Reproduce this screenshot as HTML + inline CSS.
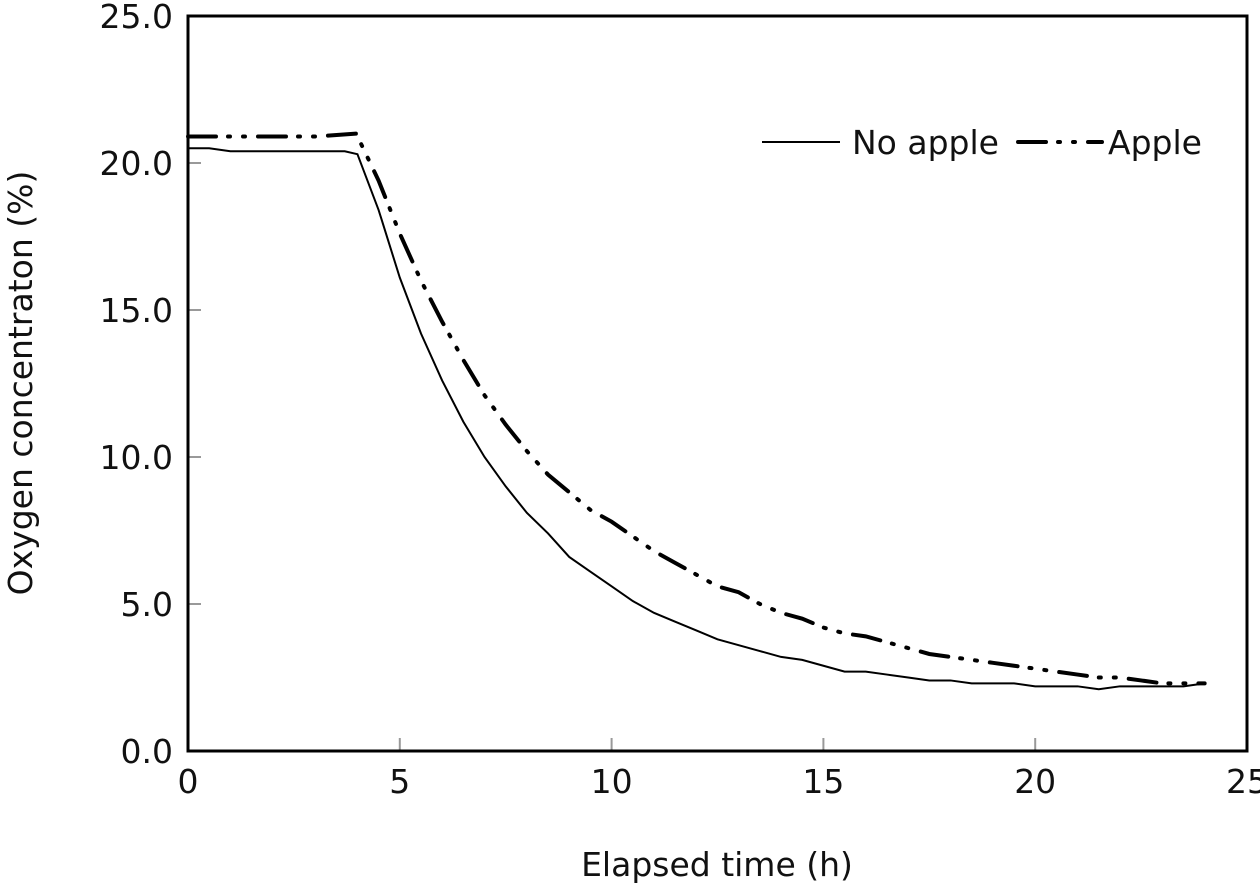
<!DOCTYPE html>
<html><head><meta charset="utf-8"><style>
body{margin:0;background:#fff}
svg text{font-family:"DejaVu Sans","Liberation Sans",sans-serif;fill:#111}
</style></head><body>
<svg id="chart" width="1260" height="891" xmlns="http://www.w3.org/2000/svg"></svg>
<script>
const xTicks=[0,5,10,15,20,25];
const yTicks=[0,5,10,15,20,25];
const yTickLabels=["0.0","5.0","10.0","15.0","20.0","25.0"];
const noAppleT=[0,0.5,1,2,3,3.7,4,4.5,5,5.5,6,6.5,7,7.5,8,8.5,9,9.5,10,10.5,11,11.5,12,12.5,13,13.5,14,14.5,15,15.5,16,16.5,17,17.5,18,18.5,19,19.5,20,20.5,21,21.5,22,23,23.5,24];
const noAppleV=[20.5,20.5,20.4,20.4,20.4,20.4,20.3,18.4,16.1,14.2,12.6,11.2,10.0,9.0,8.1,7.4,6.6,6.1,5.6,5.1,4.7,4.4,4.1,3.8,3.6,3.4,3.2,3.1,2.9,2.7,2.7,2.6,2.5,2.4,2.4,2.3,2.3,2.3,2.2,2.2,2.2,2.1,2.2,2.2,2.2,2.3];
const appleT=[0,1,2,3,3.97,4.5,5,5.5,6,6.5,7,7.5,8,8.5,9,9.5,10,10.5,11,11.5,12,12.5,13,13.5,14,14.5,15,15.5,16,16.5,17,17.5,18,18.5,19,19.5,20,20.5,21,21.5,22,22.5,23,23.5,24];
const appleV=[20.9,20.9,20.9,20.9,21.0,19.4,17.6,16.0,14.6,13.3,12.1,11.1,10.2,9.4,8.8,8.2,7.8,7.3,6.8,6.4,6.0,5.6,5.4,5.0,4.7,4.5,4.2,4.0,3.9,3.7,3.5,3.3,3.2,3.1,3.0,2.9,2.8,2.7,2.6,2.5,2.5,2.4,2.3,2.3,2.3];
const L=188,R=1247,T=16,B=751;
const xs=v=>L+(R-L)*v/25, ys=v=>B-(B-T)*v/25;
const svg=document.getElementById('chart');const NS='http://www.w3.org/2000/svg';
function mk(tag,attrs,parent){const e=document.createElementNS(NS,tag);for(const k in attrs)e.setAttribute(k,attrs[k]);(parent||svg).appendChild(e);return e;}
xTicks.forEach((t,i)=>{
 if(i>0&&i<xTicks.length-1){const l=mk('line',{x1:xs(t),x2:xs(t),y1:B,y2:B-13,stroke:'#999','stroke-width':2});
 
 }
 const tx=mk('text',{x:xs(t),y:793,'text-anchor':'middle','font-size':33});tx.textContent=t;
 
 
});
yTicks.forEach((t,i)=>{
 if(i>0&&i<yTicks.length-1){const l=mk('line',{x1:L,x2:L+13,y1:ys(t),y2:ys(t),stroke:'#999','stroke-width':2});
 
 }
 const tx=mk('text',{x:173,y:ys(t)+12,'text-anchor':'end','font-size':33});tx.textContent=yTickLabels[i];
 
 
});
const box=mk('rect',{x:L,y:T,width:R-L,height:B-T,fill:'none',stroke:'#000','stroke-width':3});


const p1=mk('polyline',{points:noAppleT.map((t,i)=>xs(t)+','+ys(noAppleV[i])).join(' '),fill:'none',stroke:'#000','stroke-width':2});


const p2=mk('polyline',{points:appleT.map((t,i)=>xs(t)+','+ys(appleV[i])).join(' '),fill:'none',stroke:'#000','stroke-width':4,'stroke-dasharray':'28 12 2 13 2 13','stroke-linecap':'round'});


const g1=mk('g',{});


mk('line',{x1:762,x2:840,y1:142,y2:142,stroke:'#000','stroke-width':2},g1);
const lt1=mk('text',{x:852,y:154,'font-size':33},g1);lt1.textContent='No apple';
const g2=mk('g',{});


mk('line',{x1:1018,x2:1102,y1:142,y2:142,stroke:'#000','stroke-width':4,'stroke-dasharray':'28 12 2 13 2 13','stroke-linecap':'round'},g2);
const lt2=mk('text',{x:1108,y:154,'font-size':33},g2);lt2.textContent='Apple';
const xt=mk('text',{x:717,y:876,'text-anchor':'middle','font-size':33});xt.textContent='Elapsed time (h)';


const yt=mk('text',{x:0,y:0,'text-anchor':'middle','font-size':33,transform:'translate(32,383) rotate(-90)'});yt.textContent='Oxygen concentraton (%)';


</script>
</body></html>
